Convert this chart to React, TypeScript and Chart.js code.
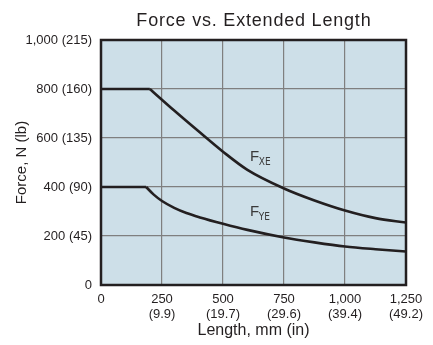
import React, { useEffect, useRef } from "react";
import { Chart, registerables } from "chart.js";

Chart.register(...registerables);

// ---- data ----
const chartTitle = "Force vs. Extended Length";
const xTitle = "Length, mm (in)";
const yTitle = "Force, N (lb)";

const xTickValues = [0, 250, 500, 750, 1000, 1250];
const xTickMm = ["0", "250", "500", "750", "1,000", "1,250"];
const xTickIn = ["", "(9.9)", "(19.7)", "(29.6)", "(39.4)", "(49.2)"];

const yTickValues = [0, 200, 400, 600, 800, 1000];
const yTickLabels = ["0", "200 (45)", "400 (90)", "600 (135)", "800 (160)", "1,000 (215)"];

// F_XE : flat part, then falling part
const fxeFlatX = [0, 200];
const fxeFlatY = [800, 800];
const fxeCurveX = [200, 300, 406, 500, 600, 750, 875, 1000, 1125, 1250];
const fxeCurveY = [800, 712, 622, 544, 470, 394, 345, 304, 273, 255];

// F_YE : flat part, then falling part
const fyeFlatX = [0, 185];
const fyeFlatY = [400, 400];
const fyeCurveX = [185, 215, 250, 300, 350, 406, 500, 600, 750, 875, 1000, 1125, 1250];
const fyeCurveY = [400, 370, 343, 315, 294, 276, 250, 225, 194, 174, 157, 146, 137];

const curveLabels = ["XE", "YE"];
const curveLabelX = [611, 611];
const curveLabelY = [505, 280];

const INK = "#231f20";
const PLOT_BG = "#cddfe8";
const GRID = "#7f7f7f";
const FONT = "'Liberation Sans', Arial, sans-serif";

function pts(xs: number[], ys: number[]) {
  return xs.map((x, i) => ({ x, y: ys[i] }));
}

export default function App() {
  const ref = useRef<HTMLCanvasElement | null>(null);

  useEffect(() => {
    if (!ref.current) return;
    const lineBase = {
      borderColor: INK,
      borderWidth: 2.6,
      pointRadius: 0,
      fill: false,
    };
    const decor = {
      id: "decor",
      beforeDraw(chart: any) {
        const { ctx, chartArea: a } = chart;
        ctx.save();
        ctx.fillStyle = PLOT_BG;
        ctx.fillRect(a.left, a.top, a.right - a.left, a.bottom - a.top);
        ctx.restore();
      },
      afterDatasetsDraw(chart: any) {
        const { ctx, chartArea: a, scales } = chart;
        ctx.save();
        ctx.strokeStyle = INK;
        ctx.lineWidth = 2.5;
        ctx.strokeRect(a.left, a.top, a.right - a.left, a.bottom - a.top);
        // title
        ctx.fillStyle = INK;
        ctx.font = `18px ${FONT}`;
        try {
          (ctx as any).letterSpacing = "0.8px";
        } catch (e) {}
        ctx.textAlign = "center";
        ctx.textBaseline = "alphabetic";
        ctx.fillText(chartTitle, (a.left + a.right) / 2 + 0.4, 26);
        try {
          (ctx as any).letterSpacing = "0px";
        } catch (e) {}
        // curve labels
        for (let i = 0; i < curveLabels.length; i++) {
          const px = scales.x.getPixelForValue(curveLabelX[i]);
          const py = scales.y.getPixelForValue(curveLabelY[i]);
          ctx.textAlign = "left";
          ctx.font = `15px ${FONT}`;
          ctx.fillStyle = "#3a3a3a";
          ctx.fillText("F", px, py);
          const w = ctx.measureText("F").width;
          ctx.font = `10px 'Liberation Sans Narrow', 'DejaVu Sans Condensed', ${FONT}`;
          ctx.fillText(curveLabels[i], px + w - 0.5, py + 4);
        }
        ctx.restore();
      },
    };

    const chart = new Chart(ref.current, {
      type: "line",
      data: {
        datasets: [
          { ...lineBase, data: pts(fxeFlatX, fxeFlatY), tension: 0 },
          { ...lineBase, data: pts(fxeCurveX, fxeCurveY), cubicInterpolationMode: "monotone" },
          { ...lineBase, data: pts(fyeFlatX, fyeFlatY), tension: 0 },
          { ...lineBase, data: pts(fyeCurveX, fyeCurveY), cubicInterpolationMode: "monotone" },
        ] as any,
      },
      options: {
        animation: false,
        responsive: true,
        maintainAspectRatio: false,
        layout: { padding: { top: 40, right: 27, left: 0, bottom: 0 } },
        plugins: {
          legend: { display: false },
          tooltip: { enabled: false },
          title: { display: false },
        },
        scales: {
          x: {
            type: "linear",
            min: 0,
            max: 1250,
            afterBuildTicks(scale: any) {
              scale.ticks = xTickValues.map((v) => ({ value: v }));
            },
            afterFit(scale: any) {
              scale.height = 60;
            },
            ticks: {
              autoSkip: false,
              maxRotation: 0,
              padding: 7,
              color: INK,
              font: { family: FONT, size: 13, lineHeight: 1.15 },
              callback(value: any) {
                const i = xTickValues.indexOf(Number(value));
                if (i < 0) return "";
                return xTickIn[i] ? [xTickMm[i], xTickIn[i]] : xTickMm[i];
              },
            },
            grid: { color: GRID, lineWidth: 1.2, drawTicks: false },
            border: { display: false },
            title: {
              display: true,
              text: xTitle,
              color: INK,
              font: { family: FONT, size: 16, lineHeight: 1.2 },
              padding: { top: 0, bottom: 5 },
            },
          },
          y: {
            type: "linear",
            min: 0,
            max: 1000,
            afterBuildTicks(scale: any) {
              scale.ticks = yTickValues.map((v) => ({ value: v }));
            },
            afterFit(scale: any) {
              scale.width = 101;
            },
            ticks: {
              autoSkip: false,
              padding: 9,
              color: INK,
              font: { family: FONT, size: 13 },
              callback(value: any) {
                const i = yTickValues.indexOf(Number(value));
                return i < 0 ? "" : yTickLabels[i];
              },
            },
            grid: { color: GRID, lineWidth: 1.2, drawTicks: false },
            border: { display: false },
            title: {
              display: true,
              text: yTitle,
              color: INK,
              font: { family: FONT, size: 15, lineHeight: 1.2 },
              padding: { top: 13, bottom: 0 },
            },
          },
        },
      },
      plugins: [decor],
    });
    return () => chart.destroy();
  }, []);

  return (
    <div style={{ position: "absolute", left: 0, top: 0, width: 433, height: 345, background: "#fff" }}>
      <canvas ref={ref} />
    </div>
  );
}
